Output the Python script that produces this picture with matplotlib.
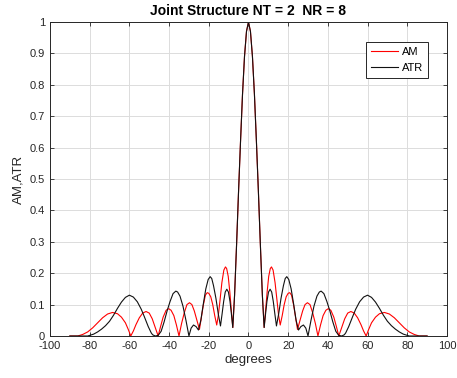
import matplotlib
matplotlib.use('Agg')
import matplotlib.pyplot as plt
import numpy as np

plt.rcParams['font.family'] = ['Liberation Sans', 'DejaVu Sans']
plt.rcParams['axes.unicode_minus'] = False

# ATR (black), degrees -> value
atr_deg = [-90, -81, -80, -78, -76, -74, -72, -70, -68, -66, -64, -62, -60, -58, -56, -54, -52.5, -50.5, -49,
           -48.3, -47, -45.5, -44, -42.5, -41, -39.5, -38, -36.6, -35.7, -34.5, -33, -31.5,
           -30, -28.9, -27.7, -26.4, -25.2, -24, -22.8, -21.5, -20.3, -19.3, -18.5, -17.6, -16.4, -15.2,
           -14.1, -13.3, -12.5, -11.7, -10.9, -10.1, -9.3, -8.6, -7.9,
           -7, -6, -5, -4, -3, -2, -1, 0, 1, 2, 3, 4, 5, 6, 7,
           7.9, 8.6, 9.3, 10.1, 10.9, 11.7, 12.5, 13.3, 14.1,
           15.2, 16.4, 17.6, 18.5, 19.3, 20.3, 21.5, 22.8, 24, 25.2,
           26.4, 27.7, 28.9, 30,
           31.5, 33, 34.5, 35.7, 36.6, 38, 39.5, 41, 42.5, 44, 45.5, 47, 48.3,
           49, 50.5, 52.5, 54, 56, 58, 60, 62, 64, 66, 68, 70, 72, 74, 76, 78, 80, 81, 90]
atr_val = [0, 0, 0.002, 0.006, 0.013, 0.022, 0.033, 0.047, 0.066, 0.088, 0.108, 0.123, 0.13, 0.124, 0.109, 0.085, 0.062, 0.03, 0.01,
           0.004, 0.0, 0.002, 0.015, 0.045, 0.08, 0.11, 0.135, 0.143, 0.14, 0.127, 0.095, 0.05,
           0.0, 0.025, 0.035, 0.03, 0.019, 0.05, 0.10, 0.15, 0.18, 0.189, 0.183, 0.16, 0.12, 0.07,
           0.032, 0.07, 0.11, 0.14, 0.149, 0.14, 0.11, 0.07, 0.027,
           0.13, 0.29, 0.46, 0.62, 0.77, 0.89, 0.97, 1.0, 0.97, 0.89, 0.77, 0.62, 0.46, 0.29, 0.13,
           0.027, 0.07, 0.11, 0.14, 0.149, 0.14, 0.11, 0.07, 0.032,
           0.07, 0.12, 0.16, 0.183, 0.189, 0.18, 0.15, 0.10, 0.05, 0.019,
           0.03, 0.035, 0.025, 0.0,
           0.05, 0.095, 0.127, 0.14, 0.143, 0.135, 0.11, 0.08, 0.045, 0.015, 0.002, 0.0, 0.004,
           0.01, 0.03, 0.062, 0.085, 0.109, 0.124, 0.13, 0.123, 0.108, 0.088, 0.066, 0.047, 0.033, 0.022, 0.013, 0.006, 0.002, 0, 0]

# AM (red)
am_deg = [-90, -86, -83.5, -81, -78.5, -76, -73.5, -71, -68.5, -66, -64, -62, -60.5,
          -59.3, -58, -56.7, -55, -53.3, -51.6, -50, -48.5, -47,
          -45.5, -44.3, -43, -41.5, -40.2, -39, -37.6, -36.3,
          -35, -33.7, -32.3, -31, -29.7, -28.5, -27.3, -26,
          -24.7, -23.7, -22.7, -21.7, -20.8, -20, -19, -18, -17,
          -16, -15.2, -14.4, -13.4, -12.4, -11.6, -11, -10.2, -9.4, -8.6, -7.9,
          -7, -6, -5, -4, -3, -2, -1, 0, 1, 2, 3, 4, 5, 6, 7,
          7.9, 8.6, 9.4, 10.2, 11, 11.6, 12.4, 13.4, 14.4, 15.2, 16,
          17, 18, 19, 20, 20.8, 21.7, 22.7, 23.7, 24.7,
          26, 27.3, 28.5, 29.7, 31, 32.3, 33.7, 35,
          36.3, 37.6, 39, 40.2, 41.5, 43, 44.3, 45.5,
          47, 48.5, 50, 51.6, 53.3, 55, 56.7, 58, 59.3,
          60.5, 62, 64, 66, 68.5, 71, 73.5, 76, 78.5, 81, 83.5, 86, 90]
am_val = [0, 0.0, 0.005, 0.013, 0.026, 0.042, 0.058, 0.07, 0.075, 0.071, 0.06, 0.042, 0.02,
          0.0, 0.016, 0.036, 0.058, 0.073, 0.078, 0.073, 0.055, 0.028,
          0.0, 0.03, 0.06, 0.082, 0.087, 0.082, 0.065, 0.035,
          0.0, 0.04, 0.075, 0.1, 0.106, 0.1, 0.08, 0.05,
          0.021, 0.06, 0.1, 0.13, 0.138, 0.136, 0.125, 0.1, 0.065,
          0.035, 0.065, 0.11, 0.17, 0.21, 0.22, 0.215, 0.19, 0.14, 0.08, 0.027,
          0.13, 0.29, 0.46, 0.62, 0.77, 0.89, 0.97, 1.0, 0.97, 0.89, 0.77, 0.62, 0.46, 0.29, 0.13,
          0.027, 0.08, 0.14, 0.19, 0.215, 0.22, 0.21, 0.17, 0.11, 0.065, 0.035,
          0.065, 0.1, 0.125, 0.136, 0.138, 0.13, 0.1, 0.06, 0.021,
          0.05, 0.08, 0.1, 0.106, 0.1, 0.075, 0.04, 0.0,
          0.035, 0.065, 0.082, 0.087, 0.082, 0.06, 0.03, 0.0,
          0.028, 0.055, 0.073, 0.078, 0.073, 0.058, 0.036, 0.016, 0.0,
          0.02, 0.042, 0.06, 0.071, 0.075, 0.07, 0.058, 0.042, 0.026, 0.013, 0.005, 0.0, 0]

x_ticks = [-100, -80, -60, -40, -20, 0, 20, 40, 60, 80, 100]
y_ticks = [0, 0.1, 0.2, 0.3, 0.4, 0.5, 0.6, 0.7, 0.8, 0.9, 1]
y_ticklabels = ['0', '0.1', '0.2', '0.3', '0.4', '0.5', '0.6', '0.7', '0.8', '0.9', '1']

fig = plt.figure(figsize=(4.57, 3.78), dpi=100)
ax = fig.add_axes([0.1094, 0.1111, 0.8686, 0.8307])

ax.plot(am_deg, am_val, color='#ff0000', linewidth=0.8, label='AM')
ax.plot(atr_deg, atr_val, color='#111111', linewidth=0.8, label='ATR')

ax.set_xlim(-100, 100)
ax.set_ylim(0, 1)
ax.set_xticks(x_ticks)
ax.set_yticks(y_ticks)
ax.set_yticklabels(y_ticklabels)
ax.grid(True, color='#dcdcdc', linewidth=0.7)
ax.set_axisbelow(True)
ax.tick_params(direction='in', top=True, right=True, labelsize=8, colors='#262626', length=3, width=0.6)
for s in ax.spines.values():
    s.set_color('#262626')
    s.set_linewidth(0.7)

ax.set_title('Joint Structure NT = 2  NR = 8', fontsize=10, fontweight='bold', pad=5)
ax.set_xlabel('degrees', fontsize=9.5, color='#262626', labelpad=2)
ax.set_ylabel('AM,ATR', fontsize=9.5, color='#262626', labelpad=4)

leg = ax.legend(loc='upper right', fontsize=8, fancybox=False, framealpha=1,
                edgecolor='#262626', handlelength=2.4, borderpad=0.5, labelspacing=0.5,
                handletextpad=0.3, bbox_to_anchor=(0.967, 0.955))
leg.get_frame().set_linewidth(0.7)

plt.savefig('out.png', dpi=100)
